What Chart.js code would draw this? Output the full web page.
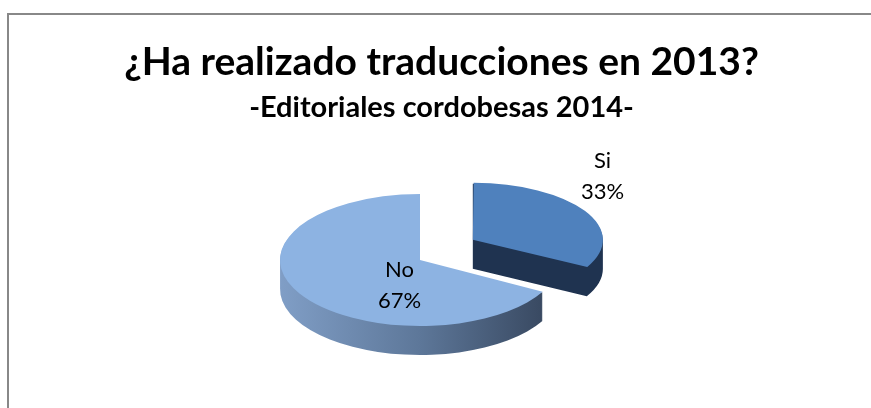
<!DOCTYPE html>
<html>
<head>
<meta charset="utf-8">
<script src="https://cdn.jsdelivr.net/npm/chart.js@4"></script>
<style>
  html, body { margin: 0; padding: 0; background: #ffffff; }
  #wrap { width: 871px; height: 408px; position: relative; }
</style>
</head>
<body>
<div id="wrap"><canvas id="c" width="871" height="408"></canvas></div>
<script>
// ---- data ----
const categories = ['Si', 'No'];
const shares = [33, 67];
const titleText = '¿Ha realizado traducciones en 2013?';
const subtitleText = '-Editoriales cordobesas 2014-';

// ---- styles ----
const topColors = ['#4F81BD', '#8DB3E2'];
const FONT = 'Lato, "Open Sans", sans-serif';
const DEPTH = 29;                     // thickness in px
// per-slice view (emulates Excel's perspective: the far slice looks smaller)
const views = [
  { tx: 434.5, ty: 249.75, sx: 0.89, sy: 0.39 },   // Si
  { tx: 420,   ty: 260,    sx: 1.00, sy: 66 / 140 } // No
];
const labelCfg = [
  { f: 1.21, dy: -30 },   // Si
  { f: 0.17, dy: 19 }     // No
];

function applyView(ctx, base, v, cx, cy, d) {
  ctx.setTransform(base);
  ctx.translate(v.tx, v.ty + d);
  ctx.scale(v.sx, v.sy);
  ctx.translate(-cx, -cy);
}

// geometry exactly as Chart.js v4 ArcElement draws it
function arcGeom(el) {
  const p = el.getProps(['startAngle', 'endAngle', 'outerRadius', 'circumference']);
  const off = (el.options.offset || 0) / 4;
  const mid = (p.startAngle + p.endAngle) / 2;
  const fix = 1 - Math.sin(Math.min(Math.PI, p.circumference || 0));
  return {
    start: p.startAngle, end: p.endAngle, mid,
    ox: Math.cos(mid) * off, oy: Math.sin(mid) * off,
    r: p.outerRadius + off * fix, off, baseR: p.outerRadius
  };
}

const framePlugin = {
  id: 'frame',
  beforeDraw(chart) {
    const ctx = chart.ctx;
    ctx.save();
    ctx.strokeStyle = '#888888';
    ctx.lineWidth = 2;
    ctx.beginPath();
    ctx.moveTo(8, chart.height + 5);
    ctx.lineTo(8, 14);
    ctx.lineTo(chart.width + 5, 14);
    ctx.stroke();
    ctx.restore();
  }
};

const pie3dPlugin = {
  id: 'pie3d',
  beforeDatasetsDraw(chart) {
    const ctx = chart.ctx;
    const meta = chart.getDatasetMeta(0);
    const base = ctx.getTransform();
    const cx = meta.data[0].x, cy = meta.data[0].y;
    chart.$tilt = { base, cx, cy };
    meta.data.forEach((el, i) => {
      const v = views[i];
      const g0 = arcGeom(el);
      // side (extrusion)
      ctx.save();
      ctx.beginPath();
      for (let d = 1; d <= DEPTH; d += 1) {
        applyView(ctx, base, v, cx, cy, d);
        ctx.moveTo(cx + g0.ox, cy + g0.oy);
        ctx.arc(cx + g0.ox, cy + g0.oy, g0.r, g0.start, g0.end);
        ctx.closePath();
      }
      ctx.setTransform(base);
      if (i === 1) {
        const rx = g0.r * v.sx;
        const g = ctx.createLinearGradient(v.tx - rx, 0, v.tx + rx, 0);
        g.addColorStop(0, '#809EC6');
        g.addColorStop(0.5, '#5D7799');
        g.addColorStop(1, '#34435A');
        ctx.fillStyle = g;
      } else {
        ctx.fillStyle = '#1F3350';
      }
      ctx.fill();
      ctx.restore();
      // top face drawn by the library element itself
      ctx.save();
      applyView(ctx, base, v, cx, cy, 0);
      el.draw(ctx);
      ctx.restore();
    });
    ctx.setTransform(base);
    return false;
  },
  afterDraw(chart) {
    const ctx = chart.ctx;
    const { base, cx, cy } = chart.$tilt;
    const meta = chart.getDatasetMeta(0);
    const values = chart.data.datasets[0].data;
    const total = values.reduce((a, b) => a + b, 0);
    ctx.save();
    ctx.setTransform(base);
    ctx.fillStyle = '#000000';
    ctx.font = '22px ' + FONT;
    ctx.textAlign = 'center';
    ctx.textBaseline = 'alphabetic';
    meta.data.forEach((el, i) => {
      const v = views[i];
      const g0 = arcGeom(el);
      const r = g0.baseR * labelCfg[i].f + g0.off;
      const sx = v.tx + Math.cos(g0.mid) * r * v.sx;
      const sy = v.ty + Math.sin(g0.mid) * r * v.sy + labelCfg[i].dy;
      const pct = Math.round(values[i] / total * 100) + '%';
      ctx.fillText(chart.data.labels[i], sx, sy - 15.5 + 7.5);
      ctx.fillText(pct, sx, sy + 15.5 + 7.5);
    });
    ctx.restore();
  }
};

new Chart(document.getElementById('c'), {
  type: 'pie',
  data: {
    labels: categories,
    datasets: [{
      data: shares,
      backgroundColor: topColors,
      borderWidth: 0,
      offset: [200, 0],
      radius: 140,
      clip: false
    }]
  },
  options: {
    responsive: false,
    animation: false,
    events: [],
    layout: { padding: { left: 12, right: 0, top: 39, bottom: 0 } },
    plugins: {
      legend: { display: false },
      tooltip: { enabled: false },
      title: {
        display: true,
        text: titleText,
        color: '#000000',
        font: { family: FONT, size: 39, weight: 'bold' },
        padding: { top: 0, bottom: 4 }
      },
      subtitle: {
        display: true,
        text: subtitleText,
        color: '#000000',
        font: { family: FONT, size: 29, weight: 'bold' },
        padding: { top: 0, bottom: 10 }
      }
    }
  },
  plugins: [framePlugin, pie3dPlugin]
});
</script>
</body>
</html>
